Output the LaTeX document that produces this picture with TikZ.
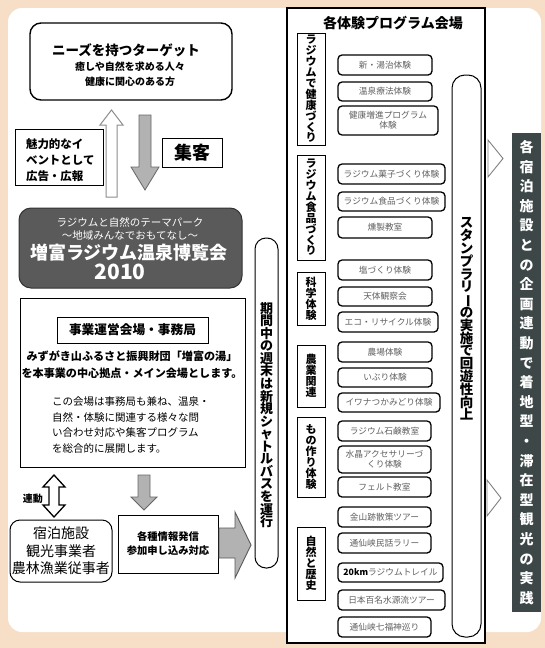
\documentclass[tikz,border=0pt]{standalone}
\usepackage{fontspec}
\setmainfont{Noto Sans CJK JP}
\definecolor{peach}{HTML}{F6DFC6}
\definecolor{darkteal}{HTML}{3D4747}
\definecolor{expogray}{HTML}{5A5A5A}
\newcommand\progbox[5]{\node[prog, anchor=north west, minimum width=#3pt, minimum height=#4pt] (#1) at (338,#2) {#5};}
\begin{document}
\begin{tikzpicture}[x=1pt,y=-1pt,
  every node/.style={inner sep=0pt, outer sep=0pt},
  vtext/.style={align=center, execute at begin node={\lineskiplimit=-30pt\relax}},
  prog/.style={draw=black, line width=1.3pt, rounded corners=4pt, fill=white,
    font=\fontsize{8.7}{10}\selectfont, text=black!62, align=center},
  cat/.style={draw, line width=0.9pt, minimum width=28pt, vtext,
    font=\bfseries\fontsize{11}{10.9}\selectfont},
  plainbox/.style={draw, line width=1pt},
  blockgray/.style={draw=black!60, fill=black!30, line width=0.8pt},
  blockwhite/.style={draw=black!45, fill=white, line width=1pt}]
\useasboundingbox (0,0) rectangle (545,648);
\fill[peach] (0,0) rectangle (545,648);
\fill[white, rounded corners=14pt] (8,8) rectangle (541,632);

% ---------- left column ----------
\node[draw, line width=1.4pt, rounded corners=11pt, minimum width=202pt, minimum height=77pt] (target) at (131,61.5) {};
\node[font=\bfseries\fontsize{13.5}{16}\selectfont] (targetT) at (126,50) {ニーズを持つターゲット};
\node[font=\bfseries\fontsize{10}{15}\selectfont, align=center] (targetS) at (130,74.5) {癒しや自然を求める人々\\健康に関心のある方};

% up hollow arrow
\draw[blockwhite] (106,197) -- (106,125) -- (100,125) -- (111.5,110) -- (123,125) -- (117,125) -- (117,197) -- cycle;
% down gray arrow
\draw[blockgray] (139,115) -- (151,115) -- (151,167) -- (159,167) -- (145,190) -- (131,167) -- (139,167) -- cycle;

\node[plainbox, line width=0.9pt, minimum width=88pt, minimum height=56pt, anchor=north west] (ad) at (15,129) {};
\node[font=\bfseries\fontsize{11.5}{16}\selectfont, align=left, anchor=west] (adT) at (26,160) {魅力的なイ\\ベントとして\\広告・広報};

\node[plainbox, line width=0.9pt, minimum width=60pt, minimum height=29pt, font=\bfseries\fontsize{18}{20}\selectfont] (shukyaku) at (192,152.5) {集客};

\node[draw=black!80, fill=expogray, line width=1pt, rounded corners=12pt, minimum width=223pt, minimum height=80pt] (expo) at (130.5,248) {};
\node[text=white, font=\fontsize{10.5}{12}\selectfont] (expo1) at (130,222) {ラジウムと自然のテーマパーク};
\node[text=white, font=\fontsize{10.5}{12}\selectfont] (expo2) at (130,236) {～地域みんなでおもてなし～};
\node[text=white, font=\bfseries\fontsize{18}{20}\selectfont] (expo3) at (129,253) {増富ラジウム温泉博覧会};
\node[text=white, font=\bfseries\fontsize{21}{22}\selectfont] (expo4) at (120,272) {2010};

\node[plainbox, minimum width=225pt, minimum height=169pt, anchor=north west] (office) at (20,298) {};
\node[plainbox, minimum width=151pt, minimum height=26pt, font=\bfseries\fontsize{12.7}{14}\selectfont] (officeT) at (132.5,330) {事業運営会場・事務局};
\node[font=\bfseries\fontsize{11.1}{17}\selectfont, align=center] (officeP1) at (132,364.5) {みずがき山ふるさと振興財団「増富の湯」\\を本事業の中心拠点・メイン会場とします。};
\node[font=\fontsize{10.5}{15.5}\selectfont, align=left, anchor=west] (officeP2) at (52,425) {この会場は事務局も兼ね、温泉・\\自然・体験に関連する様々な問\\い合わせ対応や集客プログラム\\を総合的に展開します。};

% double arrow (連動)
\draw[line width=1.3pt, fill=white] (54,475) -- (65,487) -- (59,487) -- (59,505) -- (65,505) -- (54,517) -- (43,505) -- (49,505) -- (49,487) -- (43,487) -- cycle;
\node[font=\bfseries\fontsize{10}{11}\selectfont] (rendo) at (33,499) {連動};
% down gray arrow 2
\draw[blockgray] (138,475) -- (150,475) -- (150,497) -- (157,497) -- (144,510) -- (131,497) -- (138,497) -- cycle;

\node[plainbox, rounded corners=10pt, minimum width=102pt, minimum height=62pt, font=\fontsize{14}{17.5}\selectfont, align=center] (lodging) at (61,551) {宿泊施設\\観光事業者\\農林漁業従事者};
\node[plainbox, minimum width=100pt, minimum height=58pt, font=\bfseries\fontsize{10.3}{14}\selectfont, align=center] (info) at (168,544) {各種情報発信\\参加申し込み対応};
% big right arrow
\draw[draw=black!65, fill=black!30, line width=0.9pt] (219,528) -- (235,528) -- (235,512) -- (251,545) -- (235,578) -- (235,558) -- (219,558) -- cycle;

% shuttle column
\node[plainbox, rounded corners=11pt, minimum width=23pt, minimum height=330pt] (shuttle) at (266.5,403) {};
\node[vtext, font=\bfseries\fontsize{13}{12.55}\selectfont] (shuttleT) at (266.5,415) {期\\間\\中\\の\\週\\末\\は\\新\\規\\シ\\ャ\\ト\\ル\\バ\\ス\\を\\運\\行};

% ---------- venue frame ----------
\node[draw, line width=1.1pt, fill=white, minimum width=198pt, minimum height=635pt, anchor=north west] (venue) at (287,8) {};
\node[font=\bfseries\fontsize{14}{16}\selectfont] (venueT) at (393,23) {各体験プログラム会場};

\node[cat, minimum height=112pt] (cat1) at (311,89) {ラ\\ジ\\ウ\\ム\\で\\健\\康\\づ\\く\\り};
\node[cat, minimum height=105pt] (cat2) at (311,207.5) {ラ\\ジ\\ウ\\ム\\食\\品\\づ\\く\\り};
\node[cat, minimum height=53pt] (cat3) at (311,298.5) {科\\学\\体\\験};
\node[cat, minimum height=62pt] (cat4) at (311,376) {農\\業\\関\\連};
\node[cat, minimum height=80pt] (cat5) at (311,457) {も\\の\\作\\り\\体\\験};
\node[cat, minimum height=73pt] (cat6) at (311,563.5) {自\\然\\と\\歴\\史};

\progbox{p1}{55}{94}{20}{新・湯治体験}
\progbox{p2}{82}{94}{19}{温泉療法体験}
\progbox{p3}{106}{100}{29}{健康増進プログラム\\体験}
\progbox{p4}{164}{107}{20}{ラジウム菓子づくり体験}
\progbox{p5}{192}{107}{19}{ラジウム食品づくり体験}
\progbox{p6}{217}{94}{21}{燻製教室}
\progbox{p7}{260}{94}{20}{塩づくり体験}
\progbox{p8}{287}{94}{19}{天体観察会}
\progbox{p9}{312}{100}{20}{エコ・リサイクル体験}
\progbox{p10}{342}{94}{20}{農場体験}
\progbox{p11}{368}{94}{19}{いぶり体験}
\progbox{p12}{393}{102}{19}{イワナつかみどり体験}
\progbox{p13}{421}{93}{20}{ラジウム石鹸教室}
\progbox{p14}{446}{93}{27}{水晶アクセサリーづ\\くり体験}
\progbox{p15}{477}{93}{20}{フェルト教室}
\progbox{p16}{507}{93}{20}{金山跡散策ツアー}
\progbox{p17}{533}{93}{20}{通仙峡民話ラリー}
\progbox{p18}{563}{105}{19}{{\bfseries\color{black}20km}ラジウムトレイル}
\progbox{p19}{590}{107}{20}{日本百名水源流ツアー}
\progbox{p20}{617}{93}{20}{通仙峡七福神巡り}

% stamp rally column
\node[plainbox, rounded corners=13pt, minimum width=29pt, minimum height=562pt, anchor=north west] (stamp) at (452,75) {};
\node[vtext, font=\bfseries\fontsize{13.5}{12.8}\selectfont] (stampT) at (466.5,319) {ス\\タ\\ン\\プ\\ラ\\リ\\\rotatebox[origin=c]{-90}{ー}\\の\\実\\施\\で\\回\\遊\\性\\向\\上};

% ---------- right side ----------
\draw[black!50, line width=0.9pt, fill=white] (488,140) -- (503,158.5) -- (488,177) -- cycle;
\draw[black!50, line width=0.9pt, fill=white] (487,480) -- (501,498) -- (487,516) -- cycle;
\node[fill=darkteal, minimum width=29pt, minimum height=479pt, text=white, vtext, font=\bfseries\fontsize{14}{19.6}\selectfont] (rightbox) at (526.5,372.5) {各\\宿\\泊\\施\\設\\と\\の\\企\\画\\連\\動\\で\\着\\地\\型\\・\\滞\\在\\型\\観\\光\\の\\実\\践};
\end{tikzpicture}
\end{document}
